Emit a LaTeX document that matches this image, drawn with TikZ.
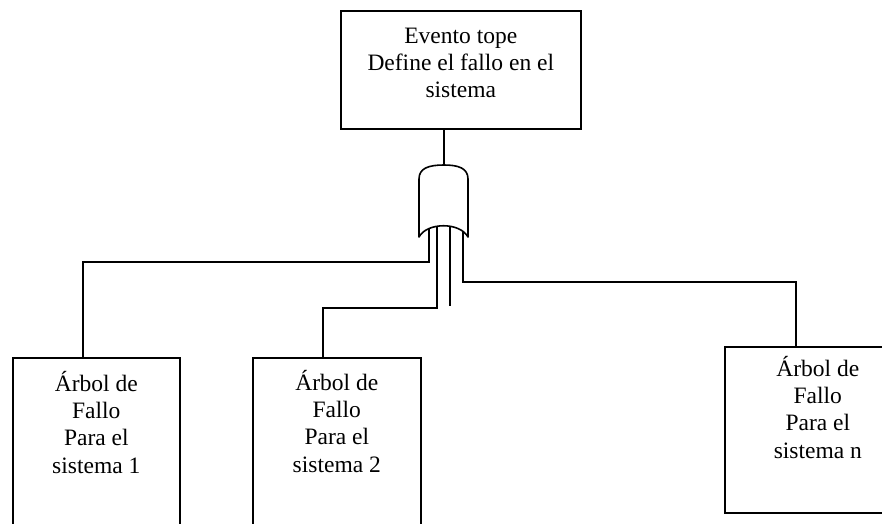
\documentclass[tikz,border=0pt]{standalone}
\usepackage{fontspec}
\setmainfont{Liberation Serif}
\usetikzlibrary{positioning}

\begin{document}
\begin{tikzpicture}[
    x=1pt, y=-1pt,
    every node/.style={font=\fontsize{23.5}{27.3}\selectfont},
    box/.style={
      rectangle,
      draw=black,
      line width=1.6pt,
      inner sep=0pt,
      anchor=north west
    },
    txt/.style={align=center, inner sep=0pt, anchor=base},
    wire/.style={line width=1.6pt, draw=black}
  ]
    \useasboundingbox (0,0) rectangle (882,523);
    \clip (0,0) rectangle (882,523);

    \node[box, minimum width=240pt, minimum height=118pt] (top) at (340,10) {};
    \node[box, minimum width=167pt, minimum height=200pt] (sys1) at (12,357) {};
    \node[box, minimum width=168pt, minimum height=200pt] (sys2) at (252,357) {};
    \node[box, minimum width=186pt, minimum height=166pt] (sysn) at (724,346) {};

    % base anchor sits on the last line
    \node[txt] (toptxt) at ([yshift=-87.6pt]top.north) {Evento tope\\Define el fallo en el\\sistema};
    \node[txt] (sys1txt) at ([yshift=-116pt]sys1.north) {Árbol de\\Fallo\\Para el\\sistema 1};
    \node[txt] (sys2txt) at ([yshift=-115pt]sys2.north) {Árbol de\\Fallo\\Para el\\sistema 2};
    \node[txt] (sysntxt) at ([yshift=-112pt]sysn.north) {Árbol de\\Fallo\\Para el\\sistema n};

    % gate points
    \coordinate (gtop) at (444,165);
    \coordinate (in1) at (429,224);
    \coordinate (in2) at (437,224);
    \coordinate (in3) at (450,224);
    \coordinate (in4) at (463,224);
    \coordinate (open) at (450,306);

    \draw[wire] (gtop |- top.south) -- (gtop);
    \draw[wire] (in1) -- ++(0,38) -| ([xshift=71pt]sys1.north west);
    \draw[wire] (in2) -- ++(0,84) -| ([xshift=71pt]sys2.north west);
    \draw[wire] (in3) -- (open);
    \draw[wire] (in4) -- ++(0,58) -| ([xshift=72pt]sysn.north west);

    % gate
    \draw[wire, fill=white, line join=round] (419,237) -- (419,179)
      .. controls (419,168) and (429,165) .. (gtop)
      .. controls (458,165) and (468,168) .. (468,179) -- (468,237)
      .. controls (460,222) and (427,222) .. cycle;
  \end{tikzpicture}
\end{document}
